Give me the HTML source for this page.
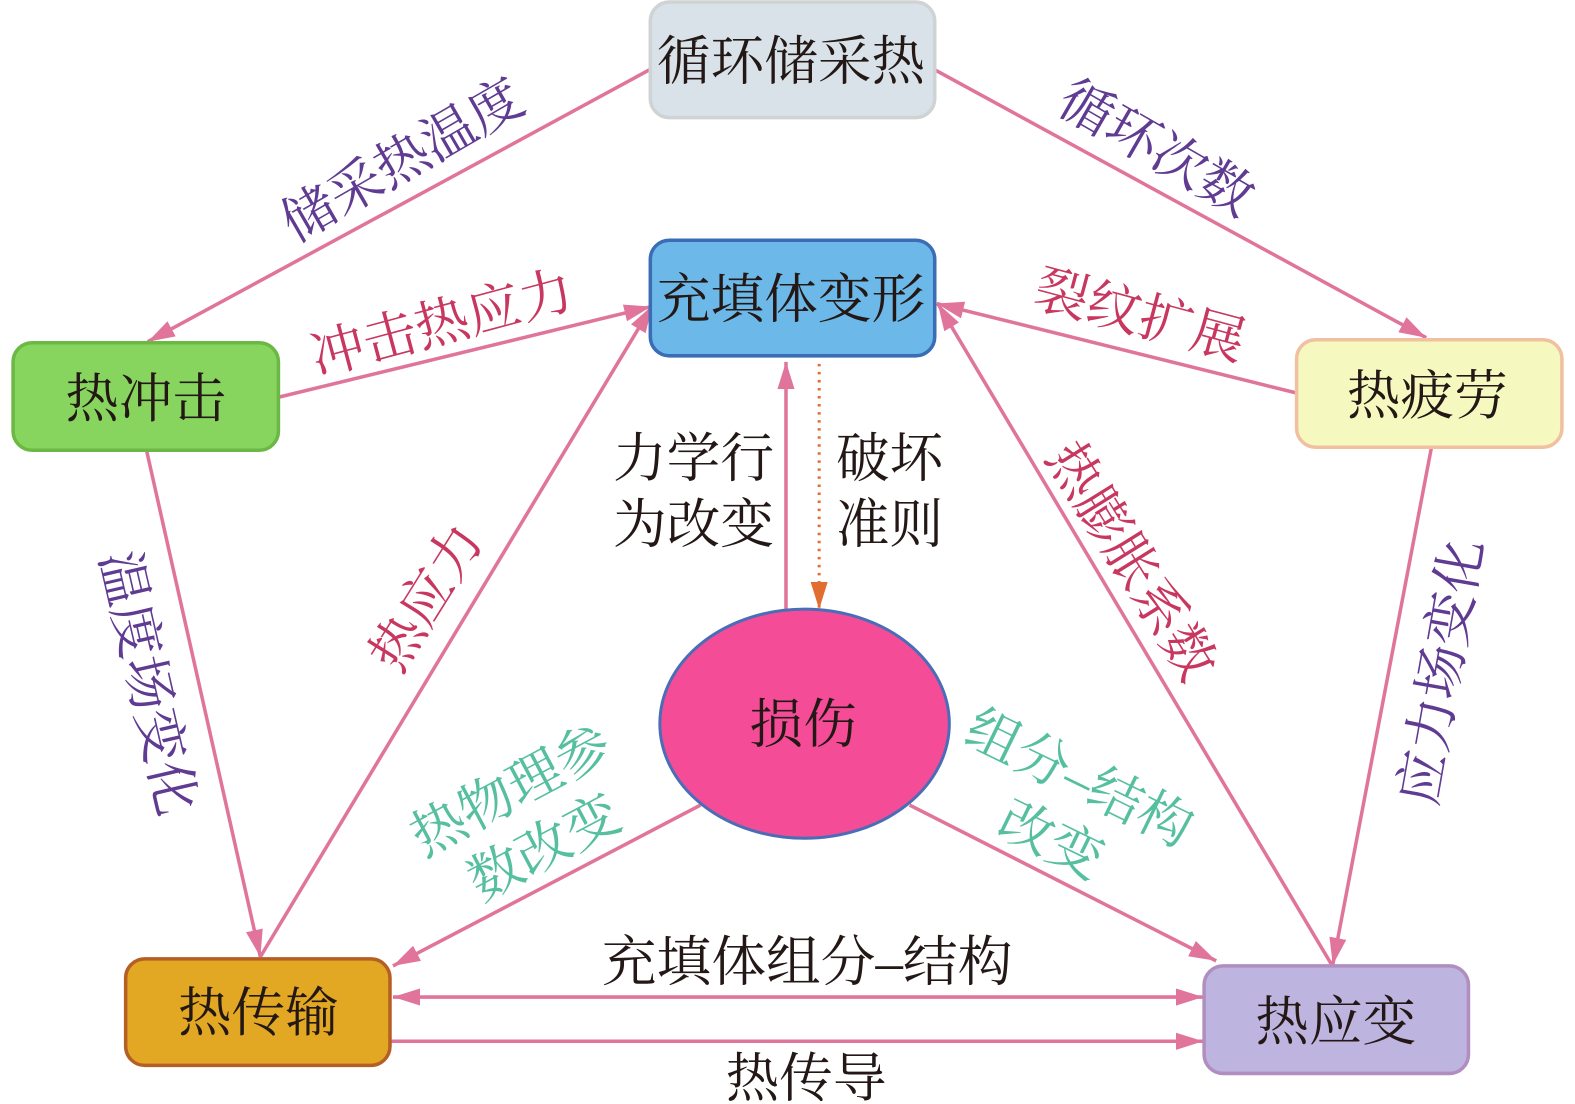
<!DOCTYPE html>
<html><head><meta charset="utf-8"><style>
html,body{margin:0;padding:0;background:#fff}
svg{display:block}
text{font-family:"Liberation Serif","Noto Serif CJK SC",serif;font-size:53.4px;text-anchor:middle;dominant-baseline:central;fill:#231815}
.p{fill:#5f3b92;font-size:53.5px}.r{fill:#c8375f;font-size:53.5px}.g{fill:#55bf9f;font-size:54px}
line.c{stroke:#e0749b;stroke-width:3.5}
</style></head><body>
<svg width="1575" height="1104" viewBox="0 0 1567 1098.4" xmlns="http://www.w3.org/2000/svg">
<defs>
<marker id="a" markerUnits="userSpaceOnUse" markerWidth="28" markerHeight="18" refX="27" refY="9" orient="auto-start-reverse"><path d="M0 0.5L27 9L0 17.5Z" fill="#e0749b"/></marker>
<marker id="o" markerUnits="userSpaceOnUse" markerWidth="28" markerHeight="18" refX="27" refY="9" orient="auto"><path d="M0 0.5L27 9L0 17.5Z" fill="#e26d30"/></marker>
</defs>
<g>
<line class="c" x1="647" y1="69" x2="147" y2="340" marker-end="url(#a)"/>
<line class="c" x1="931" y1="70" x2="1419" y2="336" marker-end="url(#a)"/>
<line class="c" x1="278" y1="395" x2="648" y2="305" marker-end="url(#a)"/>
<line class="c" x1="1290" y1="391" x2="932" y2="302" marker-end="url(#a)"/>
<line class="c" x1="146" y1="449" x2="259" y2="952" marker-end="url(#a)"/>
<line class="c" x1="259" y1="952" x2="649" y2="304" marker-end="url(#a)"/>
<line class="c" x1="1424" y1="446" x2="1326" y2="960" marker-end="url(#a)"/>
<line class="c" x1="1325" y1="960" x2="933" y2="302" marker-end="url(#a)"/>
<line class="c" x1="782" y1="606" x2="782" y2="360" marker-end="url(#a)"/>
<line x1="815" y1="362" x2="815" y2="606" stroke="#e26d30" stroke-width="3" stroke-dasharray="2.5 5.5" marker-end="url(#o)"/>
<line class="c" x1="697" y1="801" x2="391" y2="961" marker-end="url(#a)"/>
<line class="c" x1="905" y1="801" x2="1210" y2="956" marker-end="url(#a)"/>
<line class="c" x1="391" y1="992" x2="1197" y2="992" marker-start="url(#a)" marker-end="url(#a)"/>
<line class="c" x1="388" y1="1036" x2="1197" y2="1036" marker-end="url(#a)"/>
</g>
<rect x="647" y="2" width="283" height="115" rx="19" fill="#d8e2e8" stroke="#cfd3d4" stroke-width="3.5"/>
<rect x="647" y="239" width="283" height="115" rx="19" fill="#6cb8e8" stroke="#3a6db5" stroke-width="3.5"/>
<rect x="13" y="341" width="264" height="107" rx="19" fill="#87d45f" stroke="#6cb845" stroke-width="3.5"/>
<rect x="1290" y="338" width="264" height="107" rx="19" fill="#f5f8bf" stroke="#f0c0a0" stroke-width="3.5"/>
<rect x="125" y="954" width="263" height="106" rx="19" fill="#e2a823" stroke="#b55f24" stroke-width="3.5"/>
<rect x="1198" y="961" width="263" height="107" rx="19" fill="#bdb4df" stroke="#b08fc0" stroke-width="3.5"/>
<ellipse cx="800.5" cy="720" rx="144" ry="114" fill="#f44c96" stroke="#4a6db8" stroke-width="3"/>

<text x="787" y="61">循环储采热</text>
<text x="787" y="298">充填体变形</text>
<text x="145" y="397">热冲击</text>
<text x="1420" y="394">热疲劳</text>
<text x="257" y="1008">热传输</text>
<text x="1329" y="1017">热应变</text>
<text x="799" y="721">损伤</text>

<text x="690" y="456">力学行</text>
<text x="690" y="522">为改变</text>
<text x="885" y="456">破坏</text>
<text x="885" y="522">准则</text>
<text x="803" y="957" style="font-size:54.5px">充填体组分–结构</text>
<text x="802" y="1073">热传导</text>

<text class="p" transform="translate(399 157) rotate(-30)" y="3">储采热温度</text>
<text class="p" transform="translate(1152 145) rotate(30)" y="3">循环次数</text>
<text class="r" transform="translate(439 319) rotate(-15)" y="3">冲击热应力</text>
<text class="r" transform="translate(1135 311) rotate(15)" y="3">裂纹扩展</text>
<text class="r" transform="translate(1128 557) rotate(58)" y="3">热膨胀系数</text>
<text class="r" transform="translate(422 593) rotate(-58)" y="3">热应力</text>
<text class="p" transform="translate(150 679) rotate(77)" y="3">温度场变化</text>
<text class="p" transform="translate(1431 668) rotate(-80)" y="3">应力场变化</text>
<text class="g" transform="translate(507 784) rotate(-28)" y="3">热物理参</text>
<text class="g" transform="translate(540 841) rotate(-28)" y="3">数改变</text>
<text class="g" transform="translate(1075 772) rotate(26)" y="3">组分–结构</text>
<text class="g" transform="translate(1047 833) rotate(26)" y="3">改变</text>
</svg>
</body></html>
